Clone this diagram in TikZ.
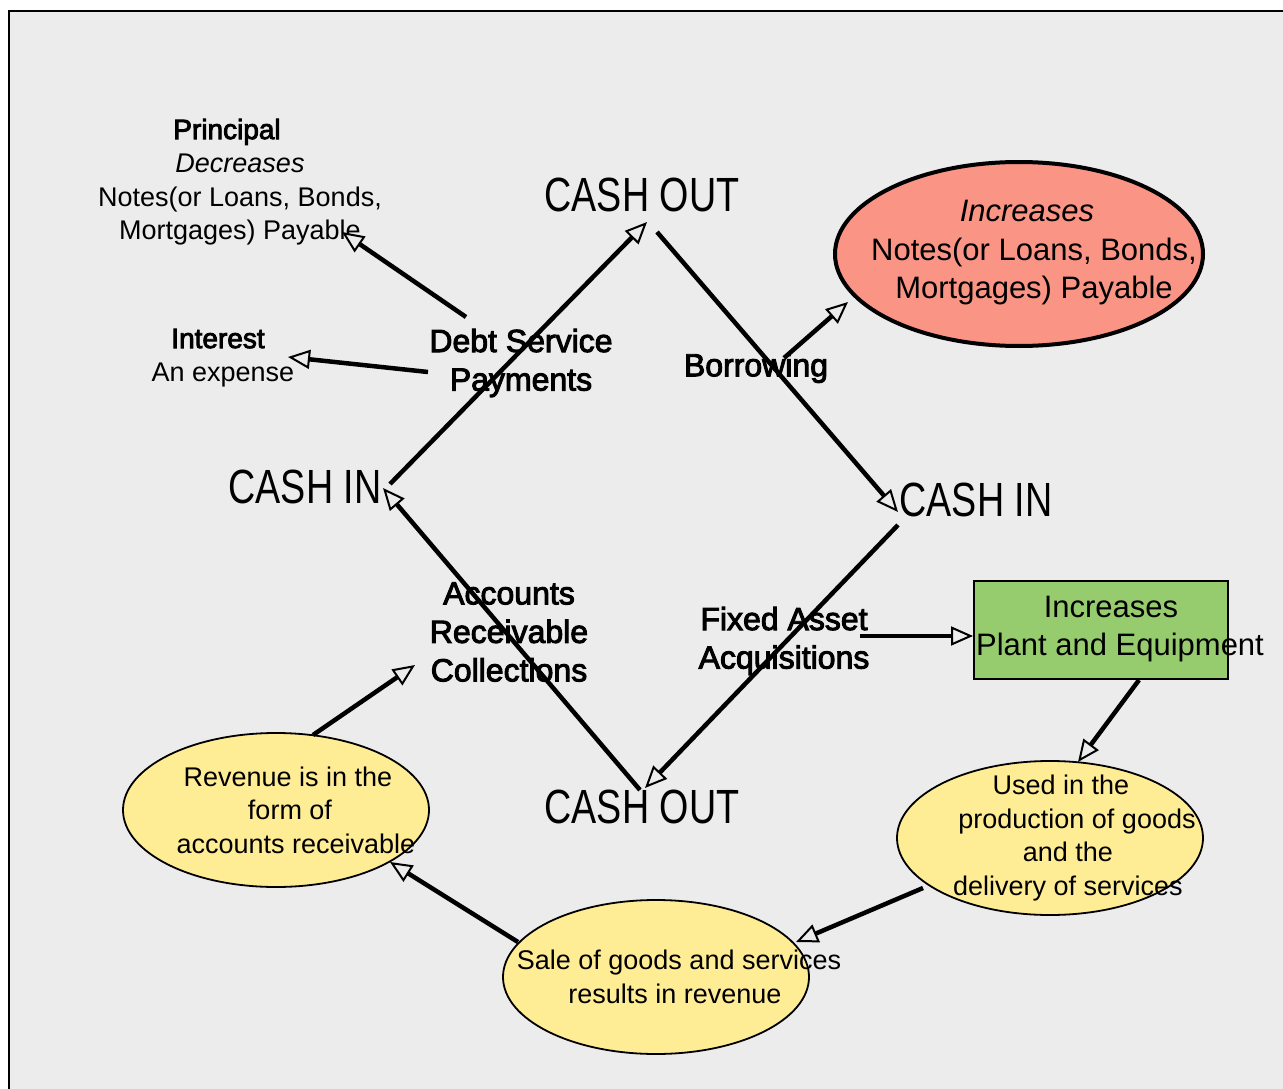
\documentclass[tikz,border=0pt]{standalone}
\usepackage{fontspec}
\setmainfont{Liberation Sans}
\newfontfamily\labelfont[FakeBold=3]{Liberation Sans}
\usepackage{graphicx}
\usetikzlibrary{arrows.meta,shapes.geometric,calc}

\definecolor{panelgray}{HTML}{ECECEC}
\definecolor{salmon}{HTML}{FA9485}
\definecolor{leafgreen}{HTML}{96CB6E}
\definecolor{paleyellow}{HTML}{FFED96}

\tikzset{
  flow/.style={line width=4.5pt,
    -{Triangle[fill=panelgray, length=22pt, width=19pt, line width=2pt]}},
  cash/.style={inner sep=0pt, font=\fontsize{48}{52}\selectfont},
  lbl/.style={inner sep=0pt, align=center, font=\labelfont\fontsize{32}{38.5}\selectfont},
  note/.style={inner sep=0pt, align=center, font=\fontsize{27}{33.5}\selectfont},
  bigtxt/.style={inner sep=0pt, align=center, font=\fontsize{31}{38.5}\selectfont},
  yellowell/.style={ellipse, draw, line width=1.8pt, fill=paleyellow,
    minimum width=306pt, minimum height=154pt, inner sep=0pt},
}

\begin{document}
\begin{tikzpicture}[x=1pt,y=-1pt]
\useasboundingbox (0,0) rectangle (1283,1089);
\fill[white] (0,0) rectangle (1283,1089);
\fill[panelgray] (9,11) rectangle (1283,1089);
\draw[line width=2pt] (9,1089) -- (9,11) -- (1283,11);

% the four cash corners
\node[cash] (cotop) at (642,195) {\scalebox{0.785}[1]{CASH OUT}};
\node[cash] (cinl)  at (305,487) {\scalebox{0.785}[1]{CASH IN}};
\node[cash] (cinr)  at (976,500) {\scalebox{0.785}[1]{CASH IN}};
\node[cash] (cobot) at (642,807) {\scalebox{0.785}[1]{CASH OUT}};

% labels on the cycle
\node[lbl] (debt)   at (521,363) {Debt Service\\Payments};
\node[lbl] (borrow) at (756,368) {Borrowing};
\node[lbl] (arc)    at (509,632) {Accounts\\Receivable\\Collections};
\node[lbl] (fixed)  at (784,641) {Fixed Asset\\Acquisitions};

% debt service outcomes
\node[note] (prin) at (240,182) {{\labelfont\fontsize{28}{33.5}\selectfont Principal}\hspace*{26pt}\\\textit{Decreases}\hspace*{8pt}\\Notes(or Loans, Bonds,\\Mortgages) Payable};
\node[note] (intr) at (223,358) {{\labelfont\fontsize{28}{33.5}\selectfont Interest}\hspace*{10pt}\\An expense};

% borrowing outcome
\node[ellipse, draw, line width=4pt, fill=salmon, minimum width=368pt,
      minimum height=184pt, inner sep=0pt] (notesell) at (1019,254) {};
\node[bigtxt] (notestxt) at (1034,253) {\textit{Increases}\hspace*{14pt}\\Notes(or Loans, Bonds,\\Mortgages) Payable};

% fixed asset outcome
\node[draw, line width=1.8pt, fill=leafgreen, minimum width=254pt,
      minimum height=98pt, inner sep=0pt] (plant) at (1101,630) {};
\node[bigtxt] (planttxt) at (1120,629) {Increases\hspace*{18pt}\\Plant and Equipment};

% operating cycle
\node[yellowell] (used) at (1050,838) {};
\node[note] (usedtxt) at (1068,838) {Used in the\hspace*{14pt}\\\hspace*{18pt}production of goods\\and the\hspace*{14pt}\\delivery of services};
\node[yellowell] (sale) at (656,977) {};
\node[note] (saletxt) at (679,977) {Sale of goods and services\\results in revenue\hspace*{8pt}};
\node[yellowell] (rev) at (276,810) {};
\node[note] (revtxt) at (290,810) {Revenue is in the\hspace*{4pt}\\form of\hspace*{20pt}\\\hspace*{12pt}accounts receivable};

% cash cycle connectors
\draw[flow] ($(cinl)+(85,-3)$) -- ($(cotop)+(5,27)$);
\draw[flow] ($(cotop)+(15,37)$) -- ($(cinr)+(-78,12)$);
\draw[flow] ($(cinr)+(-78,25)$) -- ($(cobot)+(3,-19)$);
\draw[flow] ($(cobot)+(-2,-17)$) -- ($(cinl)+(78,1)$);

% side connectors
\draw[flow] ($(debt)+(-55,-46)$) -- ($(prin)+(102,50)$);
\draw[flow] ($(debt)+(-93,9)$) -- ($(intr)+(65,-1)$);
\draw[flow] ($(borrow)+(28,-10)$) -- ($(notesell)+(-171,48)$);
\draw[flow] ($(rev)+(37,-75)$) -- ($(arc)+(-94,33)$);
\draw[flow] ($(fixed)+(76,-5)$) -- ($(plant)+(-128,6)$);
\draw[flow] ($(plant)+(38,50)$) -- ($(used)+(28,-76)$);
\draw[flow] ($(used)+(-127,50)$) -- ($(sale)+(140,-35)$);
\draw[flow] ($(sale)+(-138,-35)$) -- ($(rev)+(114,52)$);
\end{tikzpicture}
\end{document}
